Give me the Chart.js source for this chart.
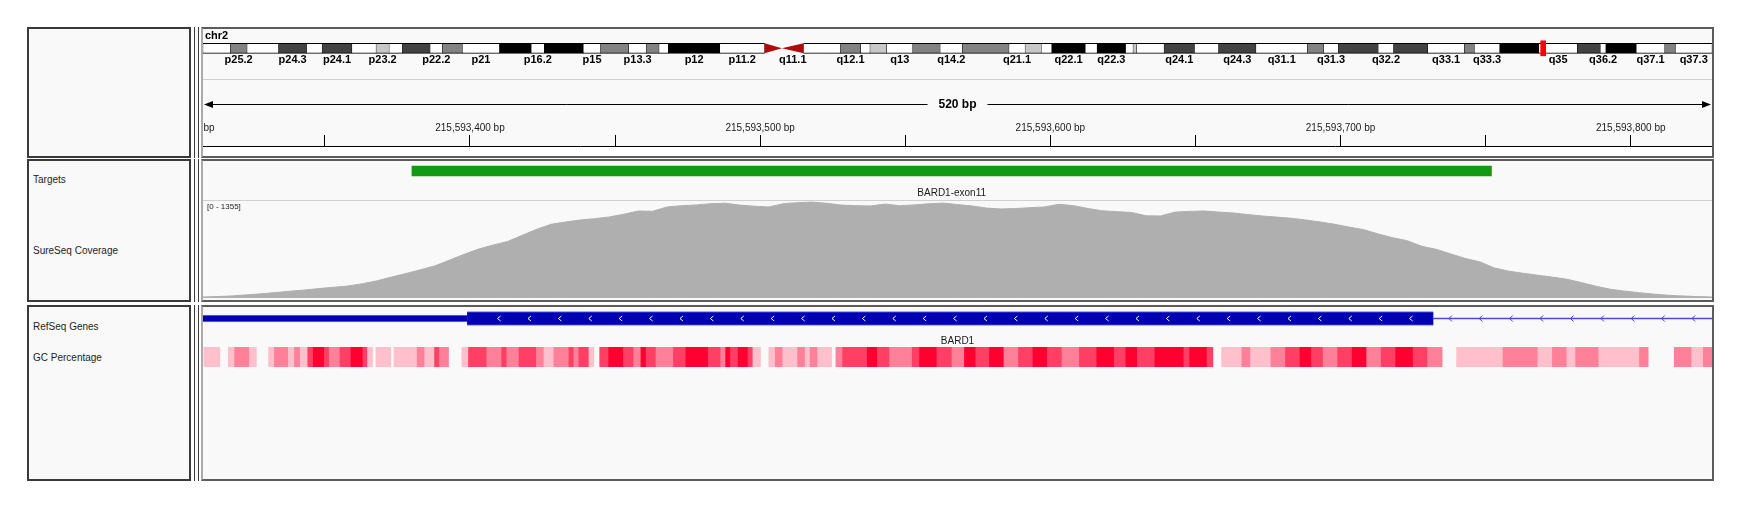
<!DOCTYPE html>
<html>
<head>
<meta charset="utf-8">
<title>IGV view – chr2 BARD1 exon 11</title>
<script src="https://cdn.jsdelivr.net/npm/chart.js@4.4.1/dist/chart.umd.min.js"></script>
<style>
  html, body { margin:0; padding:0; background:#ffffff; }
  body { width:1740px; height:506px; position:relative; overflow:hidden; font-family:"Liberation Sans", Arial, sans-serif; }
  .panel { position:absolute; box-sizing:border-box; background:#f9f9f9; }
  .name  { border:2px solid #3a3a3a; }
  .attr  { border-left:1px solid #3a3a3a; border-right:1px solid #3a3a3a; }
  .data  { border:2px solid #5c5c5c; border-left:2px solid #aaaaaa; }
  .lbl   { position:absolute; left:33px; font-size:10px; line-height:12px; color:#1e1e1e; white-space:nowrap; }
  .rule  { position:absolute; left:203px; width:1509px; height:1px; background:#d0d0d0; }
  canvas.cv { position:absolute; left:203px; }
</style>
</head>
<body>

<!-- panel frames -->
<div class="panel name" style="left:27px;top:27px;width:164px;height:131px;"></div>
<div class="panel name" style="left:27px;top:159px;width:164px;height:143px;"></div>
<div class="panel name" style="left:27px;top:305px;width:164px;height:176px;"></div>
<div class="panel attr" style="left:194px;top:27px;width:5px;height:131px;"></div>
<div class="panel attr" style="left:194px;top:159px;width:5px;height:143px;"></div>
<div class="panel attr" style="left:194px;top:305px;width:5px;height:176px;"></div>
<div class="panel data" style="left:201px;top:27px;width:1513px;height:131px;"></div>
<div class="panel data" style="left:201px;top:159px;width:1513px;height:143px;"></div>
<div class="panel data" style="left:201px;top:305px;width:1513px;height:176px;"></div>
<div class="rule" style="top:79px;"></div>
<div class="rule" style="top:200px;"></div>

<!-- track names -->
<div class="lbl" style="top:174px;">Targets</div>
<div class="lbl" style="top:245px;">SureSeq Coverage</div>
<div class="lbl" style="top:321px;">RefSeq Genes</div>
<div class="lbl" style="top:352px;">GC Percentage</div>

<canvas class="cv" id="ideo"   width="1509" height="50" style="top:28px;"></canvas>
<canvas class="cv" id="ruler"  width="1509" height="76" style="top:80px;"></canvas>
<canvas class="cv" id="target" width="1509" height="40" style="top:160px;"></canvas>
<canvas class="cv" id="cov"    width="1509" height="97" style="top:201px;"></canvas>
<canvas class="cv" id="gene"   width="1509" height="40" style="top:307px;"></canvas>
<canvas class="cv" id="gc"     width="1509" height="20" style="top:347px;"></canvas>

<script>
// ======================= DATA =======================
const chromName = 'chr2';
const chromLength = 243199373;
const bandNames = ['p25.3','p25.2','p25.1','p24.3','p24.2','p24.1','p23.3','p23.2','p23.1','p22.3','p22.2','p22.1','p21',
  'p16.3','p16.2','p16.1','p15','p14','p13.3','p13.2','p13.1','p12','p11.2','p11.1','q11.1','q11.2','q12.1','q12.2','q12.3',
  'q13','q14.1','q14.2','q14.3','q21.1','q21.2','q21.3','q22.1','q22.2','q22.3','q23.1','q23.2','q23.3','q24.1','q24.2',
  'q24.3','q31.1','q31.2','q31.3','q32.1','q32.2','q32.3','q33.1','q33.2','q33.3','q34','q35','q36.1','q36.2','q36.3',
  'q37.1','q37.2','q37.3'];
const bandStarts = [0,4400000,7100000,12200000,16700000,19200000,24000000,27900000,30000000,32100000,36600000,38600000,41800000,
  47800000,52900000,55000000,61300000,64100000,68600000,71500000,73500000,75000000,83300000,90500000,93300000,96800000,102700000,106000000,107500000,
  110200000,114400000,118800000,122400000,129900000,132500000,135100000,136800000,142200000,144100000,148700000,149900000,150500000,154900000,159800000,
  163700000,169700000,178000000,180600000,183000000,189400000,191900000,197400000,203300000,204900000,209000000,215300000,221500000,225200000,226100000,
  231000000,235600000,237300000];
const bandEnds = [4400000,7100000,12200000,16700000,19200000,24000000,27900000,30000000,32100000,36600000,38600000,41800000,47800000,
  52900000,55000000,61300000,64100000,68600000,71500000,73500000,75000000,83300000,90500000,93300000,96800000,102700000,106000000,107500000,110200000,
  114400000,118800000,122400000,129900000,132500000,135100000,136800000,142200000,144100000,148700000,149900000,150500000,154900000,159800000,163700000,
  169700000,178000000,180600000,183000000,189400000,191900000,197400000,203300000,204900000,209000000,215300000,221500000,225200000,226100000,231000000,
  235600000,237300000,243199373];
const bandStains = ['gneg','gpos50','gneg','gpos75','gneg','gpos75','gneg','gpos25','gneg','gpos75','gneg','gpos50','gneg',
  'gpos100','gneg','gpos100','gneg','gpos50','gneg','gpos50','gneg','gpos100','gneg','acen','acen','gneg','gpos50','gneg','gpos25',
  'gneg','gpos50','gneg','gpos50','gneg','gpos25','gneg','gpos100','gneg','gpos100','gneg','gpos25','gneg','gpos75','gneg',
  'gpos75','gneg','gpos50','gneg','gpos75','gneg','gpos75','gneg','gpos50','gneg','gpos100','gneg','gpos75','gneg','gpos100',
  'gneg','gpos50','gneg'];

const viewStart = 215593308;
const viewEnd   = 215593828;
const rulerTicks = [215593300,215593350,215593400,215593450,215593500,215593550,215593600,
                    215593650,215593700,215593750,215593800,215593850];

const targetNames  = ['BARD1-exon11'];
const targetStarts = [215593380];
const targetEnds   = [215593752];

const coverageMax = 1355;
const coverageBinStart = 215593308;
const coverageBinSize = 5;
const coverageValues = [
  14,20,29,44,58,76,95,112,132,150,168,200,240,293,343,395,450,530,610,685,
  740,790,875,960,1030,1062,1090,1108,1132,1170,1215,1212,1272,1290,1300,1318,1324,1298,1282,1272,
  1318,1332,1340,1322,1298,1290,1286,1312,1290,1300,1316,1326,1305,1286,1256,1244,1250,1262,1272,1310,
  1290,1250,1218,1206,1195,1148,1146,1200,1210,1216,1200,1188,1165,1146,1130,1114,1090,1062,1030,990,
  955,895,842,800,722,680,615,552,505,420,375,345,318,292,262,215,165,122,96,74,
  54,38,28,20,14];

const geneName = 'BARD1';
const genePartTypes  = ['utr','cds','intron'];
const genePartStarts = [215590370, 215593399, 215593732];
const genePartEnds   = [215593399, 215593732, 215595120];

const gcOrigin = 215593300;
const gcBreaks = [8.3,13.8,16.7,18.9,24.0,26.4,30.6,32.6,37.4,39.5,41.5,44.1,46.0,49.8,51.5,55.2,59.0,63.1,64.7,66.4,
  67.6,72.7,73.8,81.8,84.4,87.8,89.5,92.6,97.2,99.5,105.8,110.9,112.7,116.9,122.9,125.5,128.9,134.1,135.8,137.5,
  141.0,142.7,144.7,147.8,152.9,156.4,158.9,160.7,164.1,170.1,174.4,182.1,186.4,188.1,189.8,192.4,195.8,197.5,200.1,203.0,
  205.2,207.8,212.9,215.5,217.2,219.8,224.6,226.1,228.4,236.9,240.4,244.6,252.4,254.9,260.9,266.1,270.4,274.3,279,284,
  289,294,299,304,310,316,322,326,330,336,346,348,354,356,359,366,369,376,381,386,
  390,394,399,404,409,414,419,425,430,435,440,456,468,473,478,481,489,503,506,515,
  521,525,528.3];
const gcPercent = [40,0,40,60,40,0,40,60,40,60,40,80,100,80,60,80,100,80,40,0,
  40,0,40,60,40,80,60,0,40,80,60,80,60,80,60,40,60,80,60,80,
  40,0,80,100,80,60,100,80,60,80,100,80,60,100,80,100,80,40,0,40,
  60,40,60,40,60,40,0,60,80,100,80,60,80,100,80,60,100,80,100,60,
  80,100,80,60,80,100,80,100,80,100,80,100,80,0,40,60,40,60,80,100,
  80,60,80,100,60,80,100,80,60,0,40,60,40,60,40,60,40,60,0,60,
  40,60];

// ======================= STYLE =======================
const FONT = '"Liberation Sans", Arial, sans-serif';
Chart.defaults.font.family = FONT;
const stainColor = { gneg:'#ffffff', gpos25:'#c8c8c8', gpos50:'#828282', gpos75:'#424242', gpos100:'#000000', acen:'rgba(0,0,0,0)' };
const gcColor = p => {
  if (p <= 20) return 'rgba(0,0,0,0)';
  const t = (p - 20) / 80;
  return `rgb(255,${Math.round(255 * (1 - t))},${Math.round(255 * (1 - t) + 48 * t)})`;
};
const hidden = (min, max, extra) => Object.assign({ type:'linear', display:false, min, max, offset:false, bounds:'data' }, extra || {});
const baseOpts = {
  responsive:false, animation:false, events:[], indexAxis:'y',
  layout:{ padding:0 },
  plugins:{ legend:{ display:false }, tooltip:{ enabled:false } }
};
const fmt = v => v.toLocaleString('en-US');

// ======================= IDEOGRAM =======================
const BAND_Y = 20.3;
const LABEL_GAP = 11.85;   // minimum free space between two cytoband labels
new Chart(document.getElementById('ideo'), {
  type:'bar',
  data:{ datasets:[
    { label:'current view', order:0, grouped:false, barThickness:15, minBarLength:5,
      backgroundColor:'#ff0000', borderWidth:0,
      data:[{ x:[viewStart, viewEnd], y:BAND_Y }] },
    { label:'cytobands', order:1, grouped:false, barThickness:10, borderSkipped:false,
      data: bandNames.map((n, i) => ({ x:[bandStarts[i], bandEnds[i]], y:BAND_Y })),
      backgroundColor: bandStains.map(s => stainColor[s]),
      borderColor:'#000000',
      borderWidth: ctx => bandStains[ctx.dataIndex] === 'acen' ? 0 : { top:1, bottom:1, left:0.5, right:0.5 } }
  ]},
  options: Object.assign({}, baseOpts, {
    scales:{ x: hidden(0, chromLength), y: hidden(0, 50, { reverse:true }) }
  }),
  plugins:[{
    id:'ideoDecor',
    afterDatasetsDraw(chart){
      const { ctx } = chart; const xs = chart.scales.x, ys = chart.scales.y;
      const cy = ys.getPixelForValue(BAND_Y), h = 10;
      ctx.save();
      ctx.fillStyle = '#b00a0a';
      bandNames.forEach((n, i) => {
        if (bandStains[i] !== 'acen') return;
        const a = xs.getPixelForValue(bandStarts[i]), b = xs.getPixelForValue(bandEnds[i]);
        ctx.beginPath();
        if (n[0] === 'p') { ctx.moveTo(a, cy - h/2); ctx.lineTo(b, cy); ctx.lineTo(a, cy + h/2); }
        else { ctx.moveTo(b, cy - h/2); ctx.lineTo(a, cy); ctx.lineTo(b, cy + h/2); }
        ctx.closePath(); ctx.fill();
      });
      ctx.fillStyle = '#000';
      ctx.font = 'bold 11px ' + FONT;
      ctx.textAlign = 'center'; ctx.textBaseline = 'middle';
      let lastEnd = chart.chartArea.left;
      bandNames.forEach((n, i) => {
        const c = (xs.getPixelForValue(bandStarts[i]) + xs.getPixelForValue(bandEnds[i])) / 2;
        const w = ctx.measureText(n).width;
        if (c - w / 2 - lastEnd > LABEL_GAP) { ctx.fillText(n, c, cy + 12); lastEnd = c + w / 2; }
      });
      ctx.textAlign = 'left';
      ctx.fillText(chromName, 2, 8);
      ctx.restore();
    }
  }]
});

// ======================= RULER =======================
new Chart(document.getElementById('ruler'), {
  type:'line',
  data:{ datasets:[] },
  options: Object.assign({}, baseOpts, {
    indexAxis:'x',
    scales:{
      x:{ type:'linear', position:'top', min:viewStart, max:viewEnd, bounds:'data', offset:false,
          afterBuildTicks: s => { s.ticks = rulerTicks.map(v => ({ value:v })); },
          afterFit: s => { s.height = 66; s.paddingLeft = 0; s.paddingRight = 0; },
          grid:{ drawOnChartArea:false, drawTicks:true, tickLength:11, color:'#000', lineWidth:1 },
          border:{ display:true, color:'#000', width:1 },
          ticks:{ autoSkip:false, maxRotation:0, minRotation:0, padding:1, color:'#1a1a1a',
                  font:{ size:10 }, callback: v => (v % 100 === 0 ? fmt(v) + ' bp' : '') } },
      y: hidden(0, 1)
    }
  }),
  plugins:[{
    id:'rulerDecor',
    beforeDatasetsDraw(chart){
      const { ctx, chartArea:a } = chart;
      ctx.save(); ctx.fillStyle = '#ffffff';
      ctx.fillRect(a.left, a.top + 1, a.right - a.left, a.bottom - a.top); ctx.restore();
    },
    afterDraw(chart){
      const { ctx } = chart; const xs = chart.scales.x;
      const L = xs.getPixelForValue(viewStart), R = xs.getPixelForValue(viewEnd);
      const y = 24.5;
      const text = Math.round(viewEnd - viewStart) + ' bp';
      ctx.save();
      ctx.font = 'bold 12px ' + FONT;
      const w = ctx.measureText(text).width, cx = (L + R) / 2;
      ctx.strokeStyle = '#000'; ctx.lineWidth = 1;
      ctx.beginPath();
      ctx.moveTo(L + 2, y); ctx.lineTo(cx - w/2 - 11, y);
      ctx.moveTo(cx + w/2 + 11, y); ctx.lineTo(R - 2, y);
      ctx.stroke();
      ctx.fillStyle = '#000';
      ctx.beginPath(); ctx.moveTo(L + 1, y); ctx.lineTo(L + 10, y - 3.5); ctx.lineTo(L + 10, y + 3.5); ctx.closePath(); ctx.fill();
      ctx.beginPath(); ctx.moveTo(R - 1, y); ctx.lineTo(R - 10, y - 3.5); ctx.lineTo(R - 10, y + 3.5); ctx.closePath(); ctx.fill();
      ctx.textAlign = 'center'; ctx.textBaseline = 'middle';
      ctx.fillText(text, cx, y);
      ctx.restore();
    }
  }]
});

// ======================= TARGETS =======================
const TARGET_Y = 11;
new Chart(document.getElementById('target'), {
  type:'bar',
  data:{ datasets:[{
    label:'Targets', grouped:false, barThickness:10, backgroundColor:'#129a12', borderWidth:0,
    data: targetNames.map((n, i) => ({ x:[targetStarts[i], targetEnds[i]], y:TARGET_Y }))
  }]},
  options: Object.assign({}, baseOpts, {
    scales:{ x: hidden(viewStart, viewEnd), y: hidden(0, 40, { reverse:true }) }
  }),
  plugins:[{
    id:'targetLabels',
    afterDatasetsDraw(chart){
      const { ctx } = chart; const xs = chart.scales.x;
      ctx.save(); ctx.font = '10px ' + FONT; ctx.fillStyle = '#1a1a1a';
      ctx.textAlign = 'center'; ctx.textBaseline = 'middle';
      targetNames.forEach((n, i) => {
        ctx.fillText(n, (xs.getPixelForValue(targetStarts[i]) + xs.getPixelForValue(targetEnds[i])) / 2, 33);
      });
      ctx.restore();
    }
  }]
});

// ======================= COVERAGE =======================
new Chart(document.getElementById('cov'), {
  type:'line',
  data:{ datasets:[{
    label:'SureSeq Coverage',
    data: coverageValues.map((v, i) => ({ x: coverageBinStart + i * coverageBinSize, y: v })),
    fill:'origin', backgroundColor:'#afafaf', borderColor:'#afafaf', borderWidth:1,
    pointRadius:0, tension:0
  }]},
  options: Object.assign({}, baseOpts, {
    indexAxis:'x',
    scales:{ x: hidden(viewStart, viewEnd), y: hidden(0, coverageMax) }
  }),
  plugins:[{
    id:'covRange',
    afterDraw(chart){
      const { ctx } = chart;
      ctx.save(); ctx.font = '8px ' + FONT; ctx.fillStyle = '#222';
      ctx.textBaseline = 'middle'; ctx.textAlign = 'left';
      ctx.fillText('[0 - ' + coverageMax + ']', 4, 6);
      ctx.restore();
    }
  }]
});

// ======================= GENE =======================
const GENE_Y = 11.5;
const partStyle = {
  utr:    { thickness:7,  color:'#0000b2', border:'#7474d8' },
  cds:    { thickness:14, color:'#0000b2', border:'#7474d8' },
  intron: { thickness:1,  color:'#4b4bd8', border:'#4b4bd8' }
};
const ARROW_SPACING = 30.4;
new Chart(document.getElementById('gene'), {
  type:'bar',
  data:{ datasets: genePartTypes.map((t, i) => ({
    label: geneName + ' ' + t, grouped:false, borderSkipped:false,
    barThickness: partStyle[t].thickness,
    backgroundColor: partStyle[t].color,
    borderColor: partStyle[t].border,
    borderWidth: t === 'intron' ? 0 : { top:1, bottom:1, left:0, right:0 },
    data:[{ x:[genePartStarts[i], genePartEnds[i]], y:GENE_Y }]
  }))},
  options: Object.assign({}, baseOpts, {
    scales:{ x: hidden(viewStart, viewEnd), y: hidden(0, 40, { reverse:true }) }
  }),
  plugins:[{
    id:'geneDecor',
    afterDatasetsDraw(chart){
      const { ctx, chartArea:a } = chart; const xs = chart.scales.x, ys = chart.scales.y;
      const cy = ys.getPixelForValue(GENE_Y);
      ctx.save();
      ctx.beginPath(); ctx.rect(a.left, a.top, a.right - a.left, a.bottom - a.top); ctx.clip();
      genePartTypes.forEach((t, i) => {
        if (t === 'utr') return;
        const s = Math.max(a.left, xs.getPixelForValue(genePartStarts[i]));
        const e = Math.min(a.right, xs.getPixelForValue(genePartEnds[i]));
        const big = t === 'cds';
        ctx.strokeStyle = big ? '#ffffff' : '#3c3cd4';
        ctx.lineWidth = 1;
        const hh = big ? 2.5 : 3;
        for (let x = s + (big ? 32 : 17); x < e - 8; x += ARROW_SPACING) {
          ctx.beginPath();
          ctx.moveTo(x + 1.5, cy - hh); ctx.lineTo(x - 1.5, cy); ctx.lineTo(x + 1.5, cy + hh);
          ctx.stroke();
        }
      });
      const gs = Math.max(a.left, xs.getPixelForValue(Math.min(...genePartStarts)));
      const ge = Math.min(a.right, xs.getPixelForValue(Math.max(...genePartEnds)));
      ctx.font = '10px ' + FONT; ctx.fillStyle = '#1a1a1a';
      ctx.textAlign = 'center'; ctx.textBaseline = 'middle';
      ctx.fillText(geneName, (gs + ge) / 2, 34);
      ctx.restore();
    }
  }]
});

// ======================= GC PERCENTAGE =======================
new Chart(document.getElementById('gc'), {
  type:'bar',
  data:{ datasets:[{
    label:'GC Percentage', grouped:false, barThickness:20, borderWidth:0,
    data: gcPercent.map((p, i) => ({ x:[gcOrigin + gcBreaks[i], gcOrigin + gcBreaks[i + 1]], y:10 })),
    backgroundColor: gcPercent.map(gcColor)
  }]},
  options: Object.assign({}, baseOpts, {
    scales:{ x: hidden(viewStart, viewEnd), y: hidden(0, 20, { reverse:true }) }
  })
});
</script>
</body>
</html>
